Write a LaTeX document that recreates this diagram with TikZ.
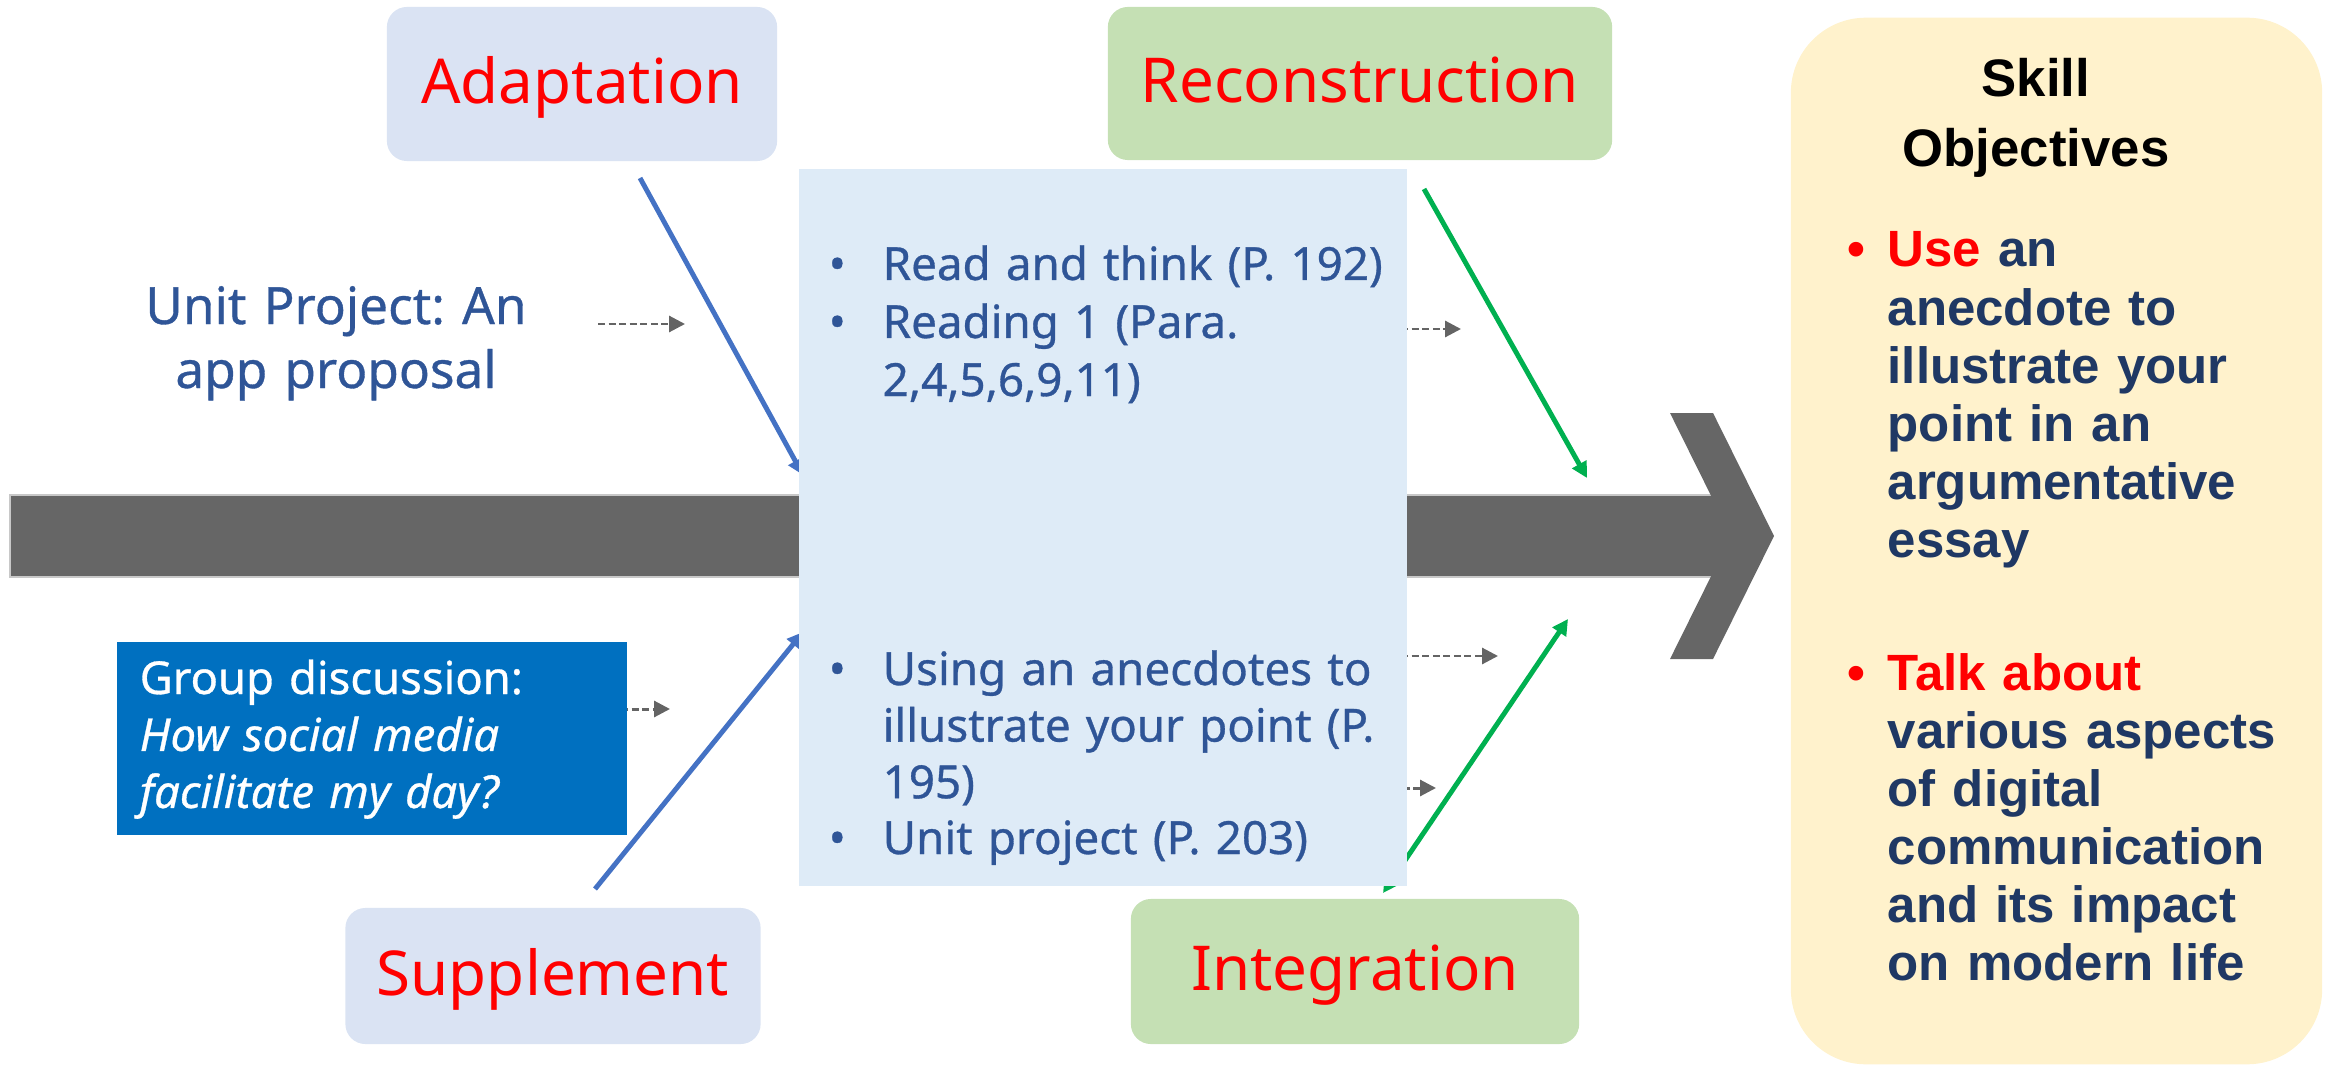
\documentclass[tikz,border=0pt]{standalone}
\usepackage{fontspec}
\setmainfont{Noto Sans}
\newfontfamily\boldsans{Liberation Sans}
\newfontfamily\medsans{Noto Sans}[FakeBold=0.7]
\frenchspacing
\usetikzlibrary{arrows.meta}
\definecolor{barg}{HTML}{666666}
\definecolor{baredge}{HTML}{C8C8C8}
\definecolor{lav}{HTML}{DAE3F3}
\definecolor{lgreen}{HTML}{C5E0B4}
\definecolor{lblue}{HTML}{DEEBF7}
\definecolor{lyellow}{HTML}{FFF2CC}
\definecolor{gblue}{HTML}{0070C0}
\definecolor{ublue}{HTML}{2F5597}
\definecolor{navy}{HTML}{1F3864}
\definecolor{arrblue}{HTML}{4472C4}
\definecolor{arrgreen}{HTML}{00B050}
\definecolor{dashg}{HTML}{646464}
\begin{document}
\begin{tikzpicture}[x=0.01cm,y=-0.01cm,
  lbox/.style={rounded corners=0.2cm, inner sep=0pt, text height=0.48cm, text depth=0.1cm,
    font=\fontsize{17.6}{20}\selectfont, text=red},
  bluearr/.style={draw=arrblue, line width=1.4pt, -{Triangle[length=4.5pt,width=4.5pt]}},
  greenarr/.style={draw=arrgreen, line width=1.4pt, -{Triangle[length=4.5pt,width=4.5pt]}},
  greenarrtwo/.style={draw=arrgreen, line width=1.4pt, {Triangle[length=4pt,width=4pt]}-{Triangle[length=4.5pt,width=4.5pt]}},
  dasharr/.style={draw=dashg, line width=0.85pt, dash pattern=on 2pt off 1pt, -{Triangle[length=4.5pt,width=4.5pt]}},
  ctext/.style={text=ublue, font=\medsans\fontsize{13}{16.5}\selectfont, inner sep=0pt, anchor=base west, align=left, text width=5.3cm},
  cbul/.style={text=ublue, font=\medsans\fontsize{13}{16.5}\selectfont, inner sep=0pt, anchor=base west},
  stext/.style={text=navy, font=\boldsans\bfseries\fontsize{14.5}{16.5}\selectfont, inner sep=0pt, anchor=base west, align=left, text width=4.3cm},
  sbul/.style={text=red, font=\boldsans\bfseries\fontsize{14.5}{16.5}\selectfont, inner sep=0pt, anchor=base west}
]
\useasboundingbox (0,0) rectangle (2331,1067);
% fish bone bar
\fill[barg, draw=baredge, line width=0.3pt] (10,495) rectangle (1740,577);
\fill[barg] (1670,413) -- (1713,413) -- (1774,536) -- (1713,659) -- (1670,659) -- (1731,536) -- cycle;
% coordinates for connectors
\coordinate (a1) at (640,178);
\coordinate (a2) at (803,475);
\coordinate (s1) at (595,889);
\coordinate (s2) at (803,632);
\coordinate (r1) at (1424,189);
\coordinate (r2) at (1587,478);
\coordinate (i1) at (1383,893);
\coordinate (i2) at (1568,619);
\coordinate (d1a) at (598,324); \coordinate (d1b) at (685,324);
\coordinate (d2a) at (1380,329); \coordinate (d2b) at (1461,329);
\coordinate (d3a) at (600,709); \coordinate (d3b) at (670,709);
\coordinate (d4a) at (1380,656); \coordinate (d4b) at (1498,656);
\coordinate (d5a) at (1350,788); \coordinate (d5b) at (1436,788);
% connectors
\draw[bluearr] (a1) -- (a2);
\draw[bluearr] (s1) -- (s2);
\draw[greenarr] (r1) -- (r2);
\draw[greenarrtwo] (i1) -- (i2);
\draw[dasharr] (d1a) -- (d1b);
\draw[dasharr] (d2a) -- (d2b);
\draw[dasharr] (d3a) -- (d3b);
\draw[dasharr] (d4a) -- (d4b);
\draw[dasharr] (d5a) -- (d5b);
% boxes
\node[lbox, fill=lav, minimum width=3.9cm, minimum height=1.54cm] (adapt) at (582,84) {Adaptation};
\node[lbox, fill=lgreen, minimum width=5.04cm, minimum height=1.53cm] (recon) at (1360,83.5) {Reconstruction};
\node[lbox, fill=lav, minimum width=4.15cm, minimum height=1.36cm] (suppl) at (553,976) {Supplement};
\node[lbox, fill=lgreen, minimum width=4.48cm, minimum height=1.45cm] (integ) at (1355,971.5) {Integration};
\node[fill=lblue, inner sep=0pt, minimum width=6.08cm, minimum height=7.17cm] (lessons) at (1103,527.5) {};
\node[fill=gblue, inner sep=0pt, minimum width=5.1cm, minimum height=1.93cm] (group) at (372,738.5) {};
\node[fill=lyellow, rounded corners=0.75cm, inner sep=0pt, minimum width=5.31cm, minimum height=10.46cm] (skill) at (2056.5,541) {};
% left texts
\node[text=ublue, font=\medsans\fontsize{14.6}{18.2}\selectfont, inner sep=0pt, anchor=base, align=center, text width=5cm] (unitp) at (336,324) {Unit Project: An\\app proposal};
\node[text=white, font=\medsans\fontsize{12.9}{16.2}\selectfont, inner sep=0pt, anchor=base west, align=left, text width=5cm] (grouptxt) at (139,694) {Group discussion:\\\textit{How social media}\\\textit{facilitate my day?}};
% central texts
\node[cbul] (b1) at (828,280) {•};
\node[ctext] (t1) at (882,280) {Read and think (P. 192)};
\node[cbul] (b2) at (828,338) {•};
\node[ctext] (t2) at (882,338) {Reading 1 (Para.\\2,4,5,6,9,11)};
\node[cbul] (b3) at (828,685) {•};
\node[ctext, font=\medsans\fontsize{13}{16.1}\selectfont] (t3) at (882,685) {Using an anecdotes to\\illustrate your point (P.\\195)};
\node[cbul] (b4) at (828,854) {•};
\node[ctext] (t4) at (882,854) {Unit project (P. 203)};
% skill objectives
\node[text=black, font=\boldsans\bfseries\fontsize{15}{19.9}\selectfont, inner sep=0pt, anchor=base, align=center, text width=4cm] (title) at (2036,97) {Skill\\Objectives};
\node[sbul] (sb1) at (1847,267) {•};
\node[stext] (st1) at (1887,267) {\textcolor{red}{Use} an\\anecdote to\\illustrate your\\point in an\\argumentative\\essay};
\node[sbul] (sb2) at (1847,690) {•};
\node[stext] (st2) at (1887,690) {\textcolor{red}{Talk about}\\various aspects\\of digital\\communication\\and its impact\\on modern life};
\end{tikzpicture}
\end{document}
